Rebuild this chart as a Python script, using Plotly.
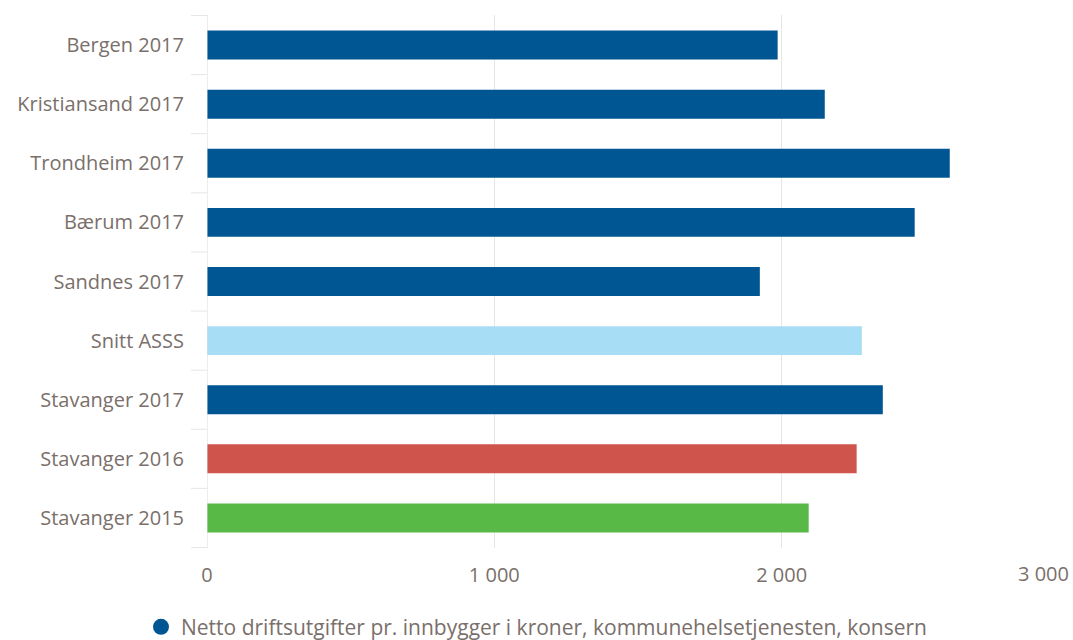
import plotly.graph_objects as go

# Netto driftsutgifter pr. innbygger (kroner), kommunehelsetjenesten
categories = [
    "Bergen 2017",
    "Kristiansand 2017",
    "Trondheim 2017",
    "Bærum 2017",
    "Sandnes 2017",
    "Snitt ASSS",
    "Stavanger 2017",
    "Stavanger 2016",
    "Stavanger 2015",
]
values = [1986, 2150, 2585, 2463, 1924, 2279, 2352, 2261, 2094]
bar_colors = [
    "#005692", "#005692", "#005692", "#005692", "#005692",
    "#a8def5", "#005692", "#cf544c", "#58b947",
]
series_name = "Netto driftsutgifter pr. innbygger i kroner, kommunehelsetjenesten, konsern"
x_ticks = [0, 1000, 2000, 3000]
x_tick_text = ["0", "1 000", "2 000", ""]

text_color = "#7a6f6a"
font_family = "Open Sans, Lato, sans-serif"

fig = go.Figure()
fig.add_trace(go.Bar(
    y=categories,
    x=values,
    orientation="h",
    marker=dict(color=bar_colors, line=dict(width=0)),
    showlegend=False,
    hovertemplate="%{y}: %{x}<extra></extra>",
))
# legend entry with a round marker
fig.add_trace(go.Scatter(
    x=[None], y=[None], mode="markers",
    marker=dict(symbol="circle", size=18, color="#005692"),
    name=series_name, showlegend=True,
))

# tick marks on the category axis, placed between categories
shapes = []
n = len(categories)
for i in range(n + 1):
    shapes.append(dict(
        type="line", xref="paper", yref="y",
        x0=-16 / 862, x1=0, y0=i - 0.5, y1=i - 0.5,
        line=dict(color="#e6e6e6", width=1),
    ))
shapes.append(dict(
    type="line", xref="x", yref="paper",
    x0=0, x1=0, y0=0, y1=1,
    line=dict(color="#dcdcdc", width=1),
))

fig.update_layout(
    width=1073, height=640,
    margin=dict(l=207, r=4, t=15, b=92),
    paper_bgcolor="white", plot_bgcolor="white",
    font=dict(family=font_family, size=20, color=text_color),
    bargap=0.51,
    shapes=shapes,
    showlegend=True,
    legend=dict(
        orientation="h", xref="container", yref="container",
        x=0.5, xanchor="center", y=0.02, yanchor="middle",
        font=dict(size=21, color=text_color),
        itemwidth=30,
    ),
    annotations=[dict(
        x=3000, xref="x", xanchor="right", xshift=2,
        y=0, yref="paper", yanchor="top", yshift=-10,
        text="3 000", showarrow=False,
        font=dict(size=20, color=text_color),
    )],
)
fig.update_xaxes(
    range=[0, 3000], tickvals=x_ticks, ticktext=x_tick_text,
    showgrid=True, gridcolor="#e6e6e6", gridwidth=1,
    zeroline=False, showline=False, ticks="",
    ticklabelstandoff=13,
)
fig.update_yaxes(
    autorange="reversed", showgrid=False, zeroline=False,
    showline=False, ticks="", ticklabelstandoff=22,
)

fig.write_html("out.html")
